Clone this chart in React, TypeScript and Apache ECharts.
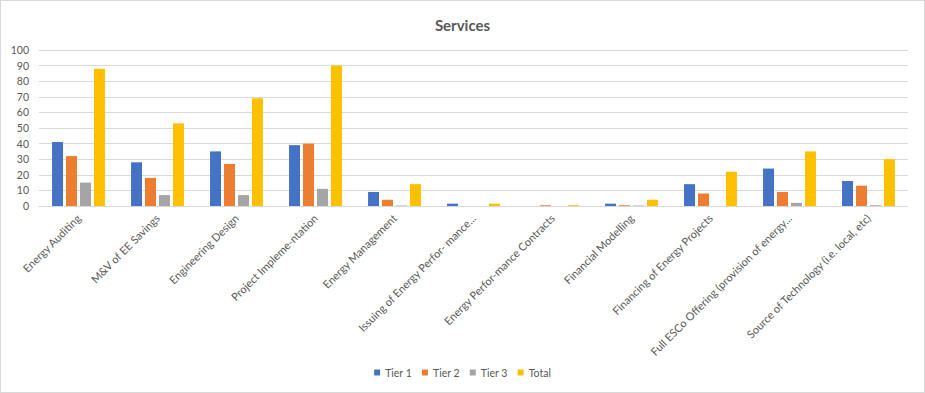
import React, { useEffect, useRef } from "react";
import * as echarts from "echarts";

const categories = [
  "Energy Auditing",
  "M&V of EE Savings",
  "Engineering Design",
  "Project Impleme-ntation",
  "Energy Management",
  "Issuing of Energy Perfor- mance...",
  "Energy Perfor-mance Contracts",
  "Financial Modelling",
  "Financing of Energy Projects",
  "Full ESCo Offering (provision of energy...",
  "Source of Technology (i.e. local, etc)",
];
const tier1 = [41, 28, 35, 39, 9, 1.5, 0, 1.5, 14, 24, 16];
const tier2 = [32, 18, 27, 40, 4, 0, 0.5, 0.5, 8, 9, 13];
const tier3 = [15, 7, 7, 11, 0.3, 0, 0, 0.3, 0, 2, 0.5];
const total = [88, 53, 69, 90, 14, 1.5, 0.5, 4, 22, 35, 30];
const yTicks = [0, 10, 20, 30, 40, 50, 60, 70, 80, 90, 100];

const FONT = "Lato, 'Open Sans', sans-serif";

export default function App() {
  const ref = useRef<HTMLDivElement>(null);
  useEffect(() => {
    if (!ref.current) return;
    const chart = echarts.init(ref.current, undefined, { renderer: "svg" });
    const mk = (name: string, data: number[], color: string) => ({
      name,
      type: "bar",
      data,
      barWidth: 11,
      barGap: "27%",
      itemStyle: { color },
    });
    chart.setOption({
      animation: false,
      backgroundColor: "#ffffff",
      textStyle: { fontFamily: FONT },
      title: {
        text: "Services",
        left: "center",
        top: 11,
        textStyle: { fontSize: 15, fontWeight: "bold", color: "#595959", fontFamily: FONT },
      },
      legend: {
        bottom: 9,
        left: "center",
        itemWidth: 6,
        itemHeight: 6,
        itemGap: 10,
        icon: "rect",
        textStyle: { fontSize: 10.5, color: "#595959", fontFamily: FONT },
        data: ["Tier 1", "Tier 2", "Tier 3", "Total"],
      },
      grid: { left: 38, right: 16, top: 49, bottom: 186, containLabel: false },
      xAxis: {
        type: "category",
        data: categories,
        axisTick: { show: false },
        axisLine: { lineStyle: { color: "#d9d9d9" } },
        axisLabel: {
          rotate: 45,
          interval: 0,
          fontSize: 11,
          color: "#595959",
          margin: 10,
          fontFamily: FONT,
        },
      },
      yAxis: {
        type: "value",
        min: yTicks[0],
        max: yTicks[yTicks.length - 1],
        interval: 10,
        axisLine: { show: false },
        axisTick: { show: false },
        splitLine: { lineStyle: { color: "#d9d9d9" } },
        axisLabel: { fontSize: 10.5, color: "#595959", margin: 10, fontFamily: FONT },
      },
      series: [
        mk("Tier 1", tier1, "#4472C4"),
        mk("Tier 2", tier2, "#ED7D31"),
        mk("Tier 3", tier3, "#A5A5A5"),
        mk("Total", total, "#FFC000"),
      ],
    });
    return () => chart.dispose();
  }, []);
  return (
    <div
      ref={ref}
      style={{
        width: 923,
        height: 391,
        position: "absolute",
        left: 0,
        top: 0,
        border: "1px solid #d9d9d9",
      }}
    />
  );
}
